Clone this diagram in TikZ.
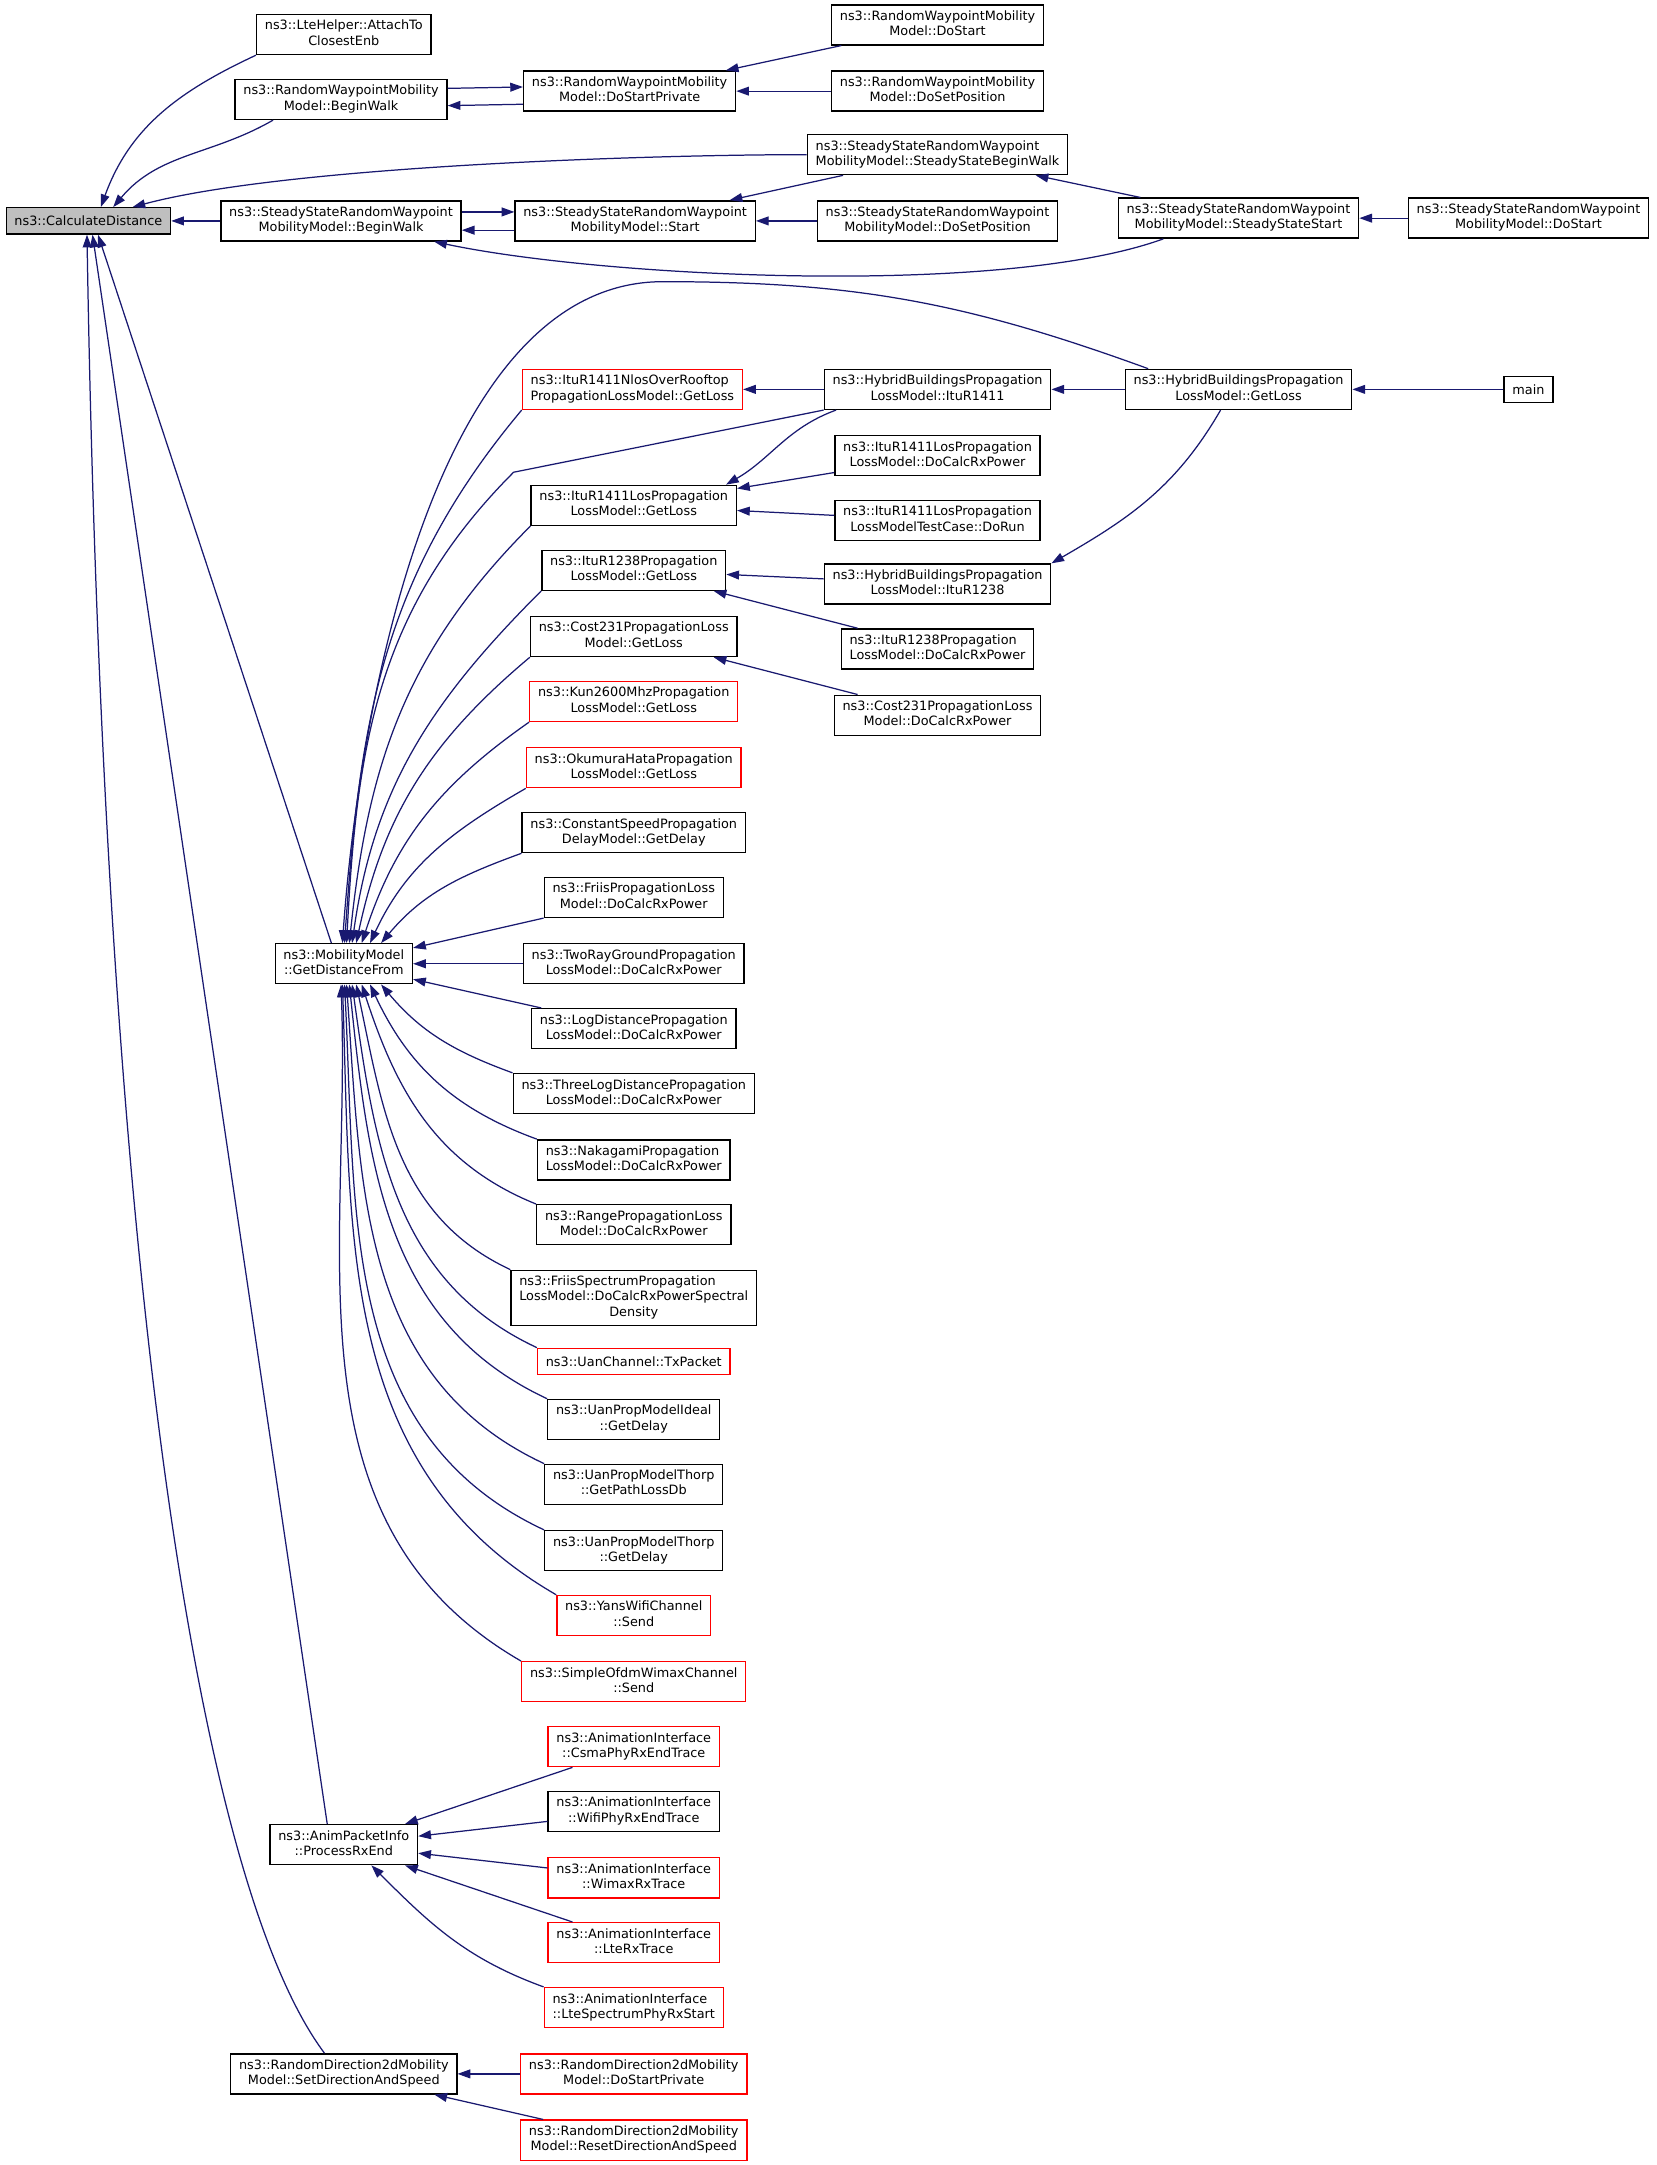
\documentclass[tikz,border=0pt]{standalone}
\usepackage{fontspec}
\setmainfont{DejaVu Sans}
\usetikzlibrary{arrows.meta}
\definecolor{navy}{RGB}{25,25,112}
\definecolor{boxgray}{RGB}{191,191,191}
% first lines left, last line centred
\newcommand{\lbl}[2]{\begin{tabular}{@{}l@{}}#1\\\multicolumn{1}{@{}c@{}}{#2}\end{tabular}}
\tikzset{
fn/.style={draw=black, line width=0.5pt, fill=white, font=\fontsize{4.65}{5.5}\selectfont, inner xsep=3pt, inner ysep=1.75pt, minimum height=9.5pt}, % a function box
undoc/.style={fn, draw=red}, % red frame
self/.style={fn, fill=boxgray}, % the function the graph is about
call/.style={draw=navy, line width=0.45pt, -{Triangle[length=4.6pt, width=3.2pt]}}, % caller -> callee
}

\begin{document}
\begin{tikzpicture}[x=0.5pt, y=0.5pt]
    \fill[white] (0,0) rectangle (1200,-1568);
    \useasboundingbox (0,0) rectangle (1200,-1568);

    \node[self] (cd) at (64,-160) {ns3::CalculateDistance};

    \node[fn] (lte) at (249,-25) {\lbl{ns3::LteHelper::AttachTo}{ClosestEnb}};
    \node[fn] (rwBegin) at (247,-72) {\lbl{ns3::RandomWaypointMobility}{Model::BeginWalk}};
    \node[fn] (ssBegin) at (247,-160) {\lbl{ns3::SteadyStateRandomWaypoint}{MobilityModel::BeginWalk}};
    \node[fn] (gdf) at (249,-698) {\lbl{ns3::MobilityModel}{::GetDistanceFrom}};
    \node[fn] (rxEnd) at (249,-1336) {\lbl{ns3::AnimPacketInfo}{::ProcessRxEnd}};
    \node[fn] (setDir) at (249,-1502) {\lbl{ns3::RandomDirection2dMobility}{Model::SetDirectionAndSpeed}};

    \node[fn] (rwPriv) at (456,-66) {\lbl{ns3::RandomWaypointMobility}{Model::DoStartPrivate}};
    \node[fn] (ssStart) at (460,-160) {\lbl{ns3::SteadyStateRandomWaypoint}{MobilityModel::Start}};
    \node[undoc] (nlos) at (458,-282) {\lbl{ns3::ItuR1411NlosOverRooftop}{PropagationLossModel::GetLoss}};
    \node[fn] (itu1411) at (459,-366) {\lbl{ns3::ItuR1411LosPropagation}{LossModel::GetLoss}};
    \node[fn] (itu1238) at (459,-413) {\lbl{ns3::ItuR1238Propagation}{LossModel::GetLoss}};
    \node[fn] (cost) at (459,-461) {\lbl{ns3::Cost231PropagationLoss}{Model::GetLoss}};
    \node[undoc] (kun) at (459,-508) {\lbl{ns3::Kun2600MhzPropagation}{LossModel::GetLoss}};
    \node[undoc] (oku) at (459,-556) {\lbl{ns3::OkumuraHataPropagation}{LossModel::GetLoss}};
    \node[fn] (constSpeed) at (459,-603) {\lbl{ns3::ConstantSpeedPropagation}{DelayModel::GetDelay}};
    \node[fn] (friis) at (459,-650) {\lbl{ns3::FriisPropagationLoss}{Model::DoCalcRxPower}};
    \node[fn] (twoRay) at (459,-698) {\lbl{ns3::TwoRayGroundPropagation}{LossModel::DoCalcRxPower}};
    \node[fn] (logDist) at (459,-745) {\lbl{ns3::LogDistancePropagation}{LossModel::DoCalcRxPower}};
    \node[fn] (threeLog) at (459,-792) {\lbl{ns3::ThreeLogDistancePropagation}{LossModel::DoCalcRxPower}};
    \node[fn] (naka) at (459,-840) {\lbl{ns3::NakagamiPropagation}{LossModel::DoCalcRxPower}};
    \node[fn] (range) at (459,-887) {\lbl{ns3::RangePropagationLoss}{Model::DoCalcRxPower}};
    \node[fn] (friisSpec) at (459,-940) {\lbl{ns3::FriisSpectrumPropagation\\LossModel::DoCalcRxPowerSpectral}{Density}};
    \node[undoc] (uanTx) at (459,-986) {ns3::UanChannel::TxPacket};
    \node[fn] (uanIdeal) at (459,-1028) {\lbl{ns3::UanPropModelIdeal}{::GetDelay}};
    \node[fn] (thorpLoss) at (459,-1075) {\lbl{ns3::UanPropModelThorp}{::GetPathLossDb}};
    \node[fn] (thorpDelay) at (459,-1123) {\lbl{ns3::UanPropModelThorp}{::GetDelay}};
    \node[undoc] (yans) at (459,-1170) {\lbl{ns3::YansWifiChannel}{::Send}};
    \node[undoc] (ofdm) at (459,-1218) {\lbl{ns3::SimpleOfdmWimaxChannel}{::Send}};
    \node[undoc] (csma) at (459,-1265) {\lbl{ns3::AnimationInterface}{::CsmaPhyRxEndTrace}};
    \node[fn] (wifi) at (459,-1312) {\lbl{ns3::AnimationInterface}{::WifiPhyRxEndTrace}};
    \node[undoc] (wimax) at (459,-1360) {\lbl{ns3::AnimationInterface}{::WimaxRxTrace}};
    \node[undoc] (lteRx) at (459,-1407) {\lbl{ns3::AnimationInterface}{::LteRxTrace}};
    \node[undoc] (lteSpec) at (459,-1454) {\lbl{ns3::AnimationInterface}{::LteSpectrumPhyRxStart}};
    \node[undoc] (rdPriv) at (459,-1502) {\lbl{ns3::RandomDirection2dMobility}{Model::DoStartPrivate}};
    \node[undoc] (rdReset) at (459,-1550) {\lbl{ns3::RandomDirection2dMobility}{Model::ResetDirectionAndSpeed}};

    \node[fn] (rwStart) at (679,-18) {\lbl{ns3::RandomWaypointMobility}{Model::DoStart}};
    \node[fn] (rwSetPos) at (679,-66) {\lbl{ns3::RandomWaypointMobility}{Model::DoSetPosition}};
    \node[fn] (ssSteadyBegin) at (679,-112) {\lbl{ns3::SteadyStateRandomWaypoint}{MobilityModel::SteadyStateBeginWalk}};
    \node[fn] (ssSetPos) at (679,-160) {\lbl{ns3::SteadyStateRandomWaypoint}{MobilityModel::DoSetPosition}};
    \node[fn] (hb1411) at (679,-282) {\lbl{ns3::HybridBuildingsPropagation}{LossModel::ItuR1411}};
    \node[fn] (losCalc) at (679,-330) {\lbl{ns3::ItuR1411LosPropagation}{LossModel::DoCalcRxPower}};
    \node[fn] (losRun) at (679,-377) {\lbl{ns3::ItuR1411LosPropagation}{LossModelTestCase::DoRun}};
    \node[fn] (hb1238) at (679,-423) {\lbl{ns3::HybridBuildingsPropagation}{LossModel::ItuR1238}};
    \node[fn] (calc1238) at (679,-470) {\lbl{ns3::ItuR1238Propagation}{LossModel::DoCalcRxPower}};
    \node[fn] (costCalc) at (679,-518) {\lbl{ns3::Cost231PropagationLoss}{Model::DoCalcRxPower}};

    \node[fn] (ssSteadyStart) at (897,-158) {\lbl{ns3::SteadyStateRandomWaypoint}{MobilityModel::SteadyStateStart}};
    \node[fn] (hbLoss) at (897,-282) {\lbl{ns3::HybridBuildingsPropagation}{LossModel::GetLoss}};
    \node[fn] (ssDoStart) at (1107,-158) {\lbl{ns3::SteadyStateRandomWaypoint}{MobilityModel::DoStart}};
    \node[fn] (main) at (1107,-282) {main};

    % callers of CalculateDistance
    \draw[call] (lte.south west) to[out=205, in=70] ([xshift=4.5pt]cd.north);
    \draw[call] ([xshift=14pt]rwBegin.south west) to[out=210, in=50] ([xshift=9pt]cd.north);
    \draw[call] (ssSteadyBegin.west) to[out=180, in=15, looseness=0.6] ([xshift=16pt]cd.north);
    \draw[call] (ssBegin) -- (cd);
    \draw[call] ([xshift=-4.5pt]gdf.north) -- ([xshift=3.5pt]cd.south);
    \draw[call] ([xshift=-6pt]rxEnd.north) -- ([xshift=1.5pt]cd.south);
    \draw[call] ([xshift=-7pt]setDir.north) .. controls (140,-1360) and (75,-900) .. ([xshift=-0.5pt]cd.south);

    % random waypoint
    \draw[call] ([yshift=4pt]rwBegin.east) -- ([yshift=1.5pt]rwPriv.west);
    \draw[call] ([yshift=-4.75pt]rwPriv.west) -- ([yshift=-2.25pt]rwBegin.east);
    \draw[call] (rwStart) -- (rwPriv);
    \draw[call] (rwSetPos) -- (rwPriv);

    % steady state random waypoint
    \draw[call] ([yshift=3.25pt]ssBegin.east) -- ([yshift=3.25pt]ssStart.west);
    \draw[call] ([yshift=-3.35pt]ssStart.west) -- ([yshift=-3.35pt]ssBegin.east);
    \draw[call] (ssSteadyBegin) -- (ssStart);
    \draw[call] (ssSetPos) -- (ssStart);
    \draw[call] (ssSteadyStart) -- (ssSteadyBegin);
    \draw[call] ([xshift=16.5pt]ssSteadyStart.south west) to[out=200, in=-12, looseness=0.6] ([xshift=-10pt]ssBegin.south east);
    \draw[call] (ssDoStart) -- (ssSteadyStart);

    % buildings
    \draw[call] (main) -- (hbLoss);
    \draw[call] (hbLoss) -- (hb1411);
    \draw[call] ([xshift=-6.5pt]hbLoss.south) to[out=-120, in=30] (hb1238.north east);
    \draw[call] (hb1411) -- (nlos);
    \draw[call] ([xshift=4.5pt]hb1411.south west) to[out=200, in=30] ([xshift=-4pt]itu1411.north east);
    \draw[call] (losCalc) -- (itu1411);
    \draw[call] (losRun) -- (itu1411);
    \draw[call] (hb1238) -- (itu1238);
    \draw[call] (calc1238) -- (itu1238);
    \draw[call] (costCalc) -- (cost);

    % callers of GetDistanceFrom, from above
    \draw[call] ([xshift=8.5pt]hbLoss.north west) to[out=160, in=0] (480,-204) to[out=180, in=86, looseness=0.8] ([xshift=-0.5pt]gdf.north);
    \draw[call] (hb1411.south west) -- (372,-342) to[out=225, in=87] ([xshift=1pt]gdf.north);
    \draw[call] (nlos.south west) to[out=230, in=86] ([xshift=0.25pt]gdf.north);
    \draw[call] (itu1411.south west) to[out=225, in=84] ([xshift=2pt]gdf.north);
    \draw[call] (itu1238.south west) to[out=225, in=82] ([xshift=3pt]gdf.north);
    \draw[call] (cost.south west) to[out=220, in=78] ([xshift=4.5pt]gdf.north);
    \draw[call] (kun.south west) to[out=215, in=72] ([xshift=6.5pt]gdf.north);
    \draw[call] (oku.south west) to[out=210, in=65] ([xshift=9.5pt]gdf.north);
    \draw[call] (constSpeed.south west) to[out=200, in=50] ([xshift=13.5pt]gdf.north);
    \draw[call] (friis) -- (gdf);
    \draw[call] (twoRay) -- (gdf);
    \draw[call] (logDist) -- (gdf);

    % callers of GetDistanceFrom, from below
    \draw[call] (threeLog.north west) to[out=160, in=-50] ([xshift=13.5pt]gdf.south);
    \draw[call] (naka.north west) to[out=160, in=-65] ([xshift=9.5pt]gdf.south);
    \draw[call] (range.north west) to[out=158, in=-72] ([xshift=6.5pt]gdf.south);
    \draw[call] (friisSpec.north west) to[out=155, in=-78] ([xshift=4.5pt]gdf.south);
    \draw[call] (uanTx.north west) to[out=155, in=-82] ([xshift=3pt]gdf.south);
    \draw[call] (uanIdeal.north west) to[out=155, in=-84] ([xshift=2pt]gdf.south);
    \draw[call] (thorpLoss.north west) to[out=155, in=-86] ([xshift=1pt]gdf.south);
    \draw[call] (thorpDelay.north west) to[out=155, in=-87] ([xshift=0.25pt]gdf.south);
    \draw[call] (yans.north west) to[out=150, in=-88] ([xshift=-0.5pt]gdf.south);
    \draw[call] (ofdm.north west) to[out=150, in=-88] ([xshift=-1pt]gdf.south);

    % animation
    \draw[call] (csma) -- (rxEnd);
    \draw[call] (wifi) -- (rxEnd);
    \draw[call] (wimax) -- (rxEnd);
    \draw[call] (lteRx) -- (rxEnd);
    \draw[call] (lteSpec.north west) to[out=160, in=-45] ([xshift=10pt]rxEnd.south);

    % random direction
    \draw[call] (rdPriv) -- (setDir);
    \draw[call] (rdReset) -- (setDir);
\end{tikzpicture}
\end{document}
